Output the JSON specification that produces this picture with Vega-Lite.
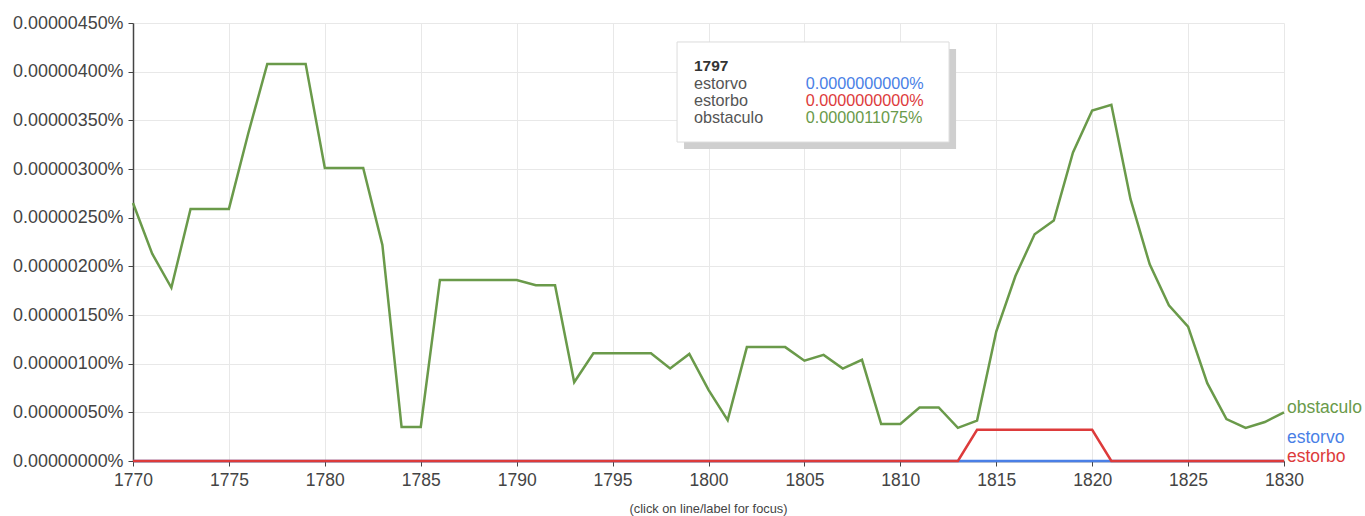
{
  "$schema": "https://vega.github.io/schema/vega-lite/v6.json",
  "autosize": "none",
  "width": 1151,
  "height": 438,
  "padding": {"left": 133, "top": 23, "right": 81, "bottom": 55},
  "background": "white",
  "config": {
    "font": "Liberation Sans",
    "view": {"stroke": null},
    "axis": {"labelFont": "Liberation Sans", "labelColor": "#444", "gridColor": "#e8e8e8", "gridWidth": 1, "domainColor": "#444", "domainWidth": 1.5, "tickColor": "#444", "tickSize": 5, "title": null, "labelFlush": false}
  },
  "title": {"text": "(click on line/label for focus)", "orient": "bottom", "anchor": "middle", "offset": 14, "fontSize": 12.8, "fontWeight": "normal", "color": "#444", "font": "Liberation Sans"},
  "datasets": {
    "ngram": [
      {"year": 1770, "series": "obstaculo", "value": 2.65e-6},
      {"year": 1771, "series": "obstaculo", "value": 2.13e-6},
      {"year": 1772, "series": "obstaculo", "value": 1.78e-6},
      {"year": 1773, "series": "obstaculo", "value": 2.59e-6},
      {"year": 1774, "series": "obstaculo", "value": 2.59e-6},
      {"year": 1775, "series": "obstaculo", "value": 2.59e-6},
      {"year": 1776, "series": "obstaculo", "value": 3.36e-6},
      {"year": 1777, "series": "obstaculo", "value": 4.08e-6},
      {"year": 1778, "series": "obstaculo", "value": 4.08e-6},
      {"year": 1779, "series": "obstaculo", "value": 4.08e-6},
      {"year": 1780, "series": "obstaculo", "value": 3.01e-6},
      {"year": 1781, "series": "obstaculo", "value": 3.01e-6},
      {"year": 1782, "series": "obstaculo", "value": 3.01e-6},
      {"year": 1783, "series": "obstaculo", "value": 2.22e-6},
      {"year": 1784, "series": "obstaculo", "value": 3.5e-7},
      {"year": 1785, "series": "obstaculo", "value": 3.5e-7},
      {"year": 1786, "series": "obstaculo", "value": 1.86e-6},
      {"year": 1787, "series": "obstaculo", "value": 1.86e-6},
      {"year": 1788, "series": "obstaculo", "value": 1.86e-6},
      {"year": 1789, "series": "obstaculo", "value": 1.86e-6},
      {"year": 1790, "series": "obstaculo", "value": 1.86e-6},
      {"year": 1791, "series": "obstaculo", "value": 1.805e-6},
      {"year": 1792, "series": "obstaculo", "value": 1.805e-6},
      {"year": 1793, "series": "obstaculo", "value": 8.1e-7},
      {"year": 1794, "series": "obstaculo", "value": 1.1075e-6},
      {"year": 1795, "series": "obstaculo", "value": 1.1075e-6},
      {"year": 1796, "series": "obstaculo", "value": 1.1075e-6},
      {"year": 1797, "series": "obstaculo", "value": 1.1075e-6},
      {"year": 1798, "series": "obstaculo", "value": 9.5e-7},
      {"year": 1799, "series": "obstaculo", "value": 1.1e-6},
      {"year": 1800, "series": "obstaculo", "value": 7.3e-7},
      {"year": 1801, "series": "obstaculo", "value": 4.2e-7},
      {"year": 1802, "series": "obstaculo", "value": 1.17e-6},
      {"year": 1803, "series": "obstaculo", "value": 1.17e-6},
      {"year": 1804, "series": "obstaculo", "value": 1.17e-6},
      {"year": 1805, "series": "obstaculo", "value": 1.03e-6},
      {"year": 1806, "series": "obstaculo", "value": 1.09e-6},
      {"year": 1807, "series": "obstaculo", "value": 9.5e-7},
      {"year": 1808, "series": "obstaculo", "value": 1.04e-6},
      {"year": 1809, "series": "obstaculo", "value": 3.8e-7},
      {"year": 1810, "series": "obstaculo", "value": 3.8e-7},
      {"year": 1811, "series": "obstaculo", "value": 5.5e-7},
      {"year": 1812, "series": "obstaculo", "value": 5.5e-7},
      {"year": 1813, "series": "obstaculo", "value": 3.4e-7},
      {"year": 1814, "series": "obstaculo", "value": 4.15e-7},
      {"year": 1815, "series": "obstaculo", "value": 1.33e-6},
      {"year": 1816, "series": "obstaculo", "value": 1.9e-6},
      {"year": 1817, "series": "obstaculo", "value": 2.33e-6},
      {"year": 1818, "series": "obstaculo", "value": 2.47e-6},
      {"year": 1819, "series": "obstaculo", "value": 3.17e-6},
      {"year": 1820, "series": "obstaculo", "value": 3.6e-6},
      {"year": 1821, "series": "obstaculo", "value": 3.66e-6},
      {"year": 1822, "series": "obstaculo", "value": 2.69e-6},
      {"year": 1823, "series": "obstaculo", "value": 2.02e-6},
      {"year": 1824, "series": "obstaculo", "value": 1.6e-6},
      {"year": 1825, "series": "obstaculo", "value": 1.38e-6},
      {"year": 1826, "series": "obstaculo", "value": 8.0e-7},
      {"year": 1827, "series": "obstaculo", "value": 4.3e-7},
      {"year": 1828, "series": "obstaculo", "value": 3.4e-7},
      {"year": 1829, "series": "obstaculo", "value": 4.0e-7},
      {"year": 1830, "series": "obstaculo", "value": 5.0e-7},
      {"year": 1770, "series": "estorbo", "value": 0},
      {"year": 1775, "series": "estorbo", "value": 0},
      {"year": 1780, "series": "estorbo", "value": 0},
      {"year": 1785, "series": "estorbo", "value": 0},
      {"year": 1790, "series": "estorbo", "value": 0},
      {"year": 1795, "series": "estorbo", "value": 0},
      {"year": 1800, "series": "estorbo", "value": 0},
      {"year": 1805, "series": "estorbo", "value": 0},
      {"year": 1810, "series": "estorbo", "value": 0},
      {"year": 1811, "series": "estorbo", "value": 0},
      {"year": 1812, "series": "estorbo", "value": 0},
      {"year": 1813, "series": "estorbo", "value": 0},
      {"year": 1814, "series": "estorbo", "value": 3.2e-7},
      {"year": 1815, "series": "estorbo", "value": 3.2e-7},
      {"year": 1816, "series": "estorbo", "value": 3.2e-7},
      {"year": 1817, "series": "estorbo", "value": 3.2e-7},
      {"year": 1818, "series": "estorbo", "value": 3.2e-7},
      {"year": 1819, "series": "estorbo", "value": 3.2e-7},
      {"year": 1820, "series": "estorbo", "value": 3.2e-7},
      {"year": 1821, "series": "estorbo", "value": 0},
      {"year": 1822, "series": "estorbo", "value": 0},
      {"year": 1825, "series": "estorbo", "value": 0},
      {"year": 1830, "series": "estorbo", "value": 0},
      {"year": 1770, "series": "estorvo", "value": 0},
      {"year": 1780, "series": "estorvo", "value": 0},
      {"year": 1790, "series": "estorvo", "value": 0},
      {"year": 1800, "series": "estorvo", "value": 0},
      {"year": 1810, "series": "estorvo", "value": 0},
      {"year": 1813, "series": "estorvo", "value": 0},
      {"year": 1814, "series": "estorvo", "value": 0},
      {"year": 1815, "series": "estorvo", "value": 0},
      {"year": 1820, "series": "estorvo", "value": 0},
      {"year": 1821, "series": "estorvo", "value": 0},
      {"year": 1825, "series": "estorvo", "value": 0},
      {"year": 1830, "series": "estorvo", "value": 0}
    ]
  },
  "layer": [
    {"data": {"name": "ngram"}, "transform": [{"filter": "datum.series === 'estorvo'"}],
      "mark": {"type": "line", "strokeWidth": 2.5, "color": "#4a7fe6", "clip": false},
      "encoding": {
        "x": {"field": "year", "type": "quantitative", "scale": {"domain": [1770, 1830], "nice": false, "zero": false},
          "axis": {"values": [1770, 1775, 1780, 1785, 1790, 1795, 1800, 1805, 1810, 1815, 1820, 1825, 1830], "format": "d", "labelFontSize": 17.5, "labelPadding": 5, "grid": true}},
        "y": {"field": "value", "type": "quantitative", "scale": {"domain": [0, 4.5e-6], "nice": false},
          "axis": {"values": [0, 5e-7, 1e-6, 1.5e-6, 2e-6, 2.5e-6, 3e-6, 3.5e-6, 4e-6, 4.5e-6], "labelExpr": "format(datum.value, '.8f') + '%'", "labelFontSize": 17.9, "labelPadding": 5, "grid": true}}
      }},
    {"data": {"name": "ngram"}, "transform": [{"filter": "datum.series === 'estorbo'"}],
      "mark": {"type": "line", "strokeWidth": 2.5, "color": "#dd3b3b", "clip": false},
      "encoding": {"x": {"field": "year", "type": "quantitative"}, "y": {"field": "value", "type": "quantitative"}}},
    {"data": {"name": "ngram"}, "transform": [{"filter": "datum.series === 'obstaculo'"}],
      "mark": {"type": "line", "strokeWidth": 2.5, "color": "#6a9a4a", "clip": false},
      "encoding": {"x": {"field": "year", "type": "quantitative"}, "y": {"field": "value", "type": "quantitative"}}},
    {"data": {"values": [{"t": "obstaculo"}]}, "mark": {"type": "text", "align": "left", "baseline": "middle", "dx": 3, "fontSize": 17.5, "color": "#6a9a4a"},
      "encoding": {"x": {"datum": 1830}, "y": {"datum": 5.45e-7}, "text": {"field": "t"}}},
    {"data": {"values": [{"t": "estorvo"}]}, "mark": {"type": "text", "align": "left", "baseline": "middle", "dx": 3, "fontSize": 17.5, "color": "#4a7fe6"},
      "encoding": {"x": {"datum": 1830}, "y": {"datum": 2.36e-7}, "text": {"field": "t"}}},
    {"data": {"values": [{"t": "estorbo"}]}, "mark": {"type": "text", "align": "left", "baseline": "middle", "dx": 3, "fontSize": 17.5, "color": "#dd3b3b"},
      "encoding": {"x": {"datum": 1830}, "y": {"datum": 4.1e-8}, "text": {"field": "t"}}},
    {"data": {"values": [{"t": "box"}]}, "mark": {"type": "rect", "fill": "#cfcfcf", "xOffset": 7, "x2Offset": 7, "yOffset": 7, "y2Offset": 7},
      "encoding": {"x": {"datum": 1798.36}, "x2": {"datum": 1812.54}, "y": {"datum": 4.305e-6}, "y2": {"datum": 3.277e-6}}},
    {"data": {"values": [{"t": "box"}]}, "mark": {"type": "rect", "fill": "white", "stroke": "#dcdcdc", "strokeWidth": 1},
      "encoding": {"x": {"datum": 1798.36}, "x2": {"datum": 1812.54}, "y": {"datum": 4.305e-6}, "y2": {"datum": 3.277e-6}}},
    {"data": {"values": [{"t": "1797"}]}, "mark": {"type": "text", "align": "left", "baseline": "middle", "fontSize": 15.5, "fontWeight": "bold", "color": "#333"},
      "encoding": {"x": {"datum": 1799.24}, "y": {"datum": 4.06e-6}, "text": {"field": "t"}}},
    {"data": {"values": [{"t": "estorvo"}]}, "mark": {"type": "text", "align": "left", "baseline": "middle", "fontSize": 16.2, "color": "#555"},
      "encoding": {"x": {"datum": 1799.24}, "y": {"datum": 3.870e-6}, "text": {"field": "t"}}},
    {"data": {"values": [{"t": "estorbo"}]}, "mark": {"type": "text", "align": "left", "baseline": "middle", "fontSize": 16.2, "color": "#555"},
      "encoding": {"x": {"datum": 1799.24}, "y": {"datum": 3.697e-6}, "text": {"field": "t"}}},
    {"data": {"values": [{"t": "obstaculo"}]}, "mark": {"type": "text", "align": "left", "baseline": "middle", "fontSize": 16.2, "color": "#555"},
      "encoding": {"x": {"datum": 1799.24}, "y": {"datum": 3.521e-6}, "text": {"field": "t"}}},
    {"data": {"values": [{"t": "0.0000000000%"}]}, "mark": {"type": "text", "align": "left", "baseline": "middle", "fontSize": 16.2, "color": "#4a7fe6"},
      "encoding": {"x": {"datum": 1805.07}, "y": {"datum": 3.870e-6}, "text": {"field": "t"}}},
    {"data": {"values": [{"t": "0.0000000000%"}]}, "mark": {"type": "text", "align": "left", "baseline": "middle", "fontSize": 16.2, "color": "#dd3b3b"},
      "encoding": {"x": {"datum": 1805.07}, "y": {"datum": 3.697e-6}, "text": {"field": "t"}}},
    {"data": {"values": [{"t": "0.0000011075%"}]}, "mark": {"type": "text", "align": "left", "baseline": "middle", "fontSize": 16.2, "color": "#6a9a4a"},
      "encoding": {"x": {"datum": 1805.07}, "y": {"datum": 3.521e-6}, "text": {"field": "t"}}}
  ]
}
